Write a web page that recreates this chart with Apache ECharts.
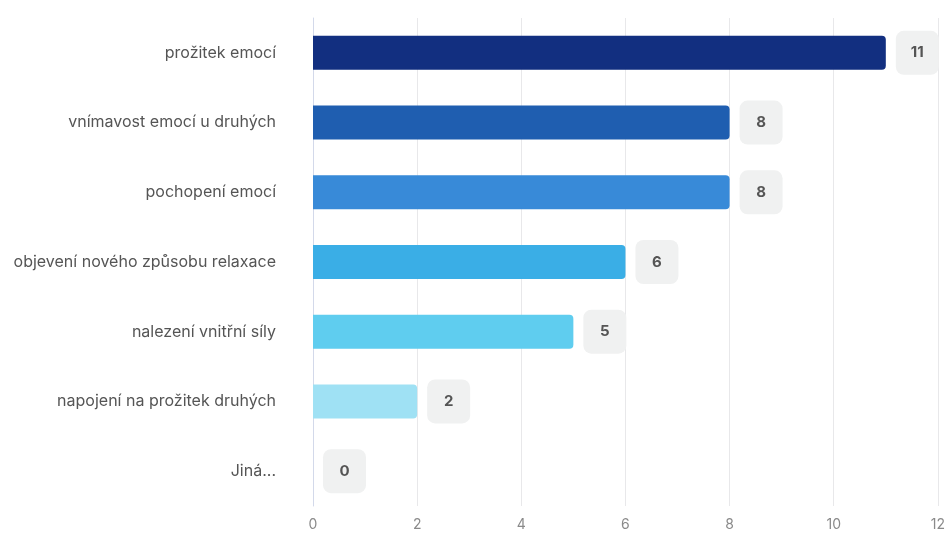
<!DOCTYPE html>
<html>
<head>
<meta charset="utf-8">
<script src="https://cdn.jsdelivr.net/npm/echarts@6/dist/echarts.min.js"></script>
<style>
  html, body { margin: 0; padding: 0; background: #fff; }
  #chart { width: 948px; height: 533px; }
</style>
</head>
<body>
<div id="chart"></div>
<script>
// Answers, top to bottom
const categories = [
  'prožitek emocí',
  'vnímavost emocí u druhých',
  'pochopení emocí',
  'objevení nového způsobu relaxace',
  'nalezení vnitřní síly',
  'napojení na prožitek druhých',
  'Jiná...'
];
const counts = [11, 8, 8, 6, 5, 2, 0];
const barColors = ['#122f80', '#1f5eb0', '#388ad8', '#3aaee6', '#5fcdef', '#9fe1f4', '#c8eefa'];
const xTicks = [0, 2, 4, 6, 8, 10, 12];

const chart = echarts.init(document.getElementById('chart'));
chart.setOption({
  animation: false,
  grid: { left: 313, right: 9, top: 18, bottom: 27, containLabel: false },
  xAxis: {
    type: 'value',
    min: xTicks[0],
    max: xTicks[xTicks.length - 1],
    interval: 2,
    axisLine: { show: false },
    axisTick: { show: false },
    splitLine: { show: true, lineStyle: { color: '#e8e8ea', width: 1 } },
    axisLabel: {
      color: '#8a8a8a', fontSize: 14, fontFamily: 'Inter, sans-serif', margin: 12
    }
  },
  yAxis: {
    type: 'category',
    inverse: true,
    data: categories,
    axisLine: { show: true, lineStyle: { color: '#d3d9ea', width: 1 } },
    axisTick: { show: false },
    axisLabel: {
      color: '#555555', fontSize: 16, fontFamily: 'Inter, sans-serif', margin: 37
    }
  },
  series: [{
    type: 'bar',
    barWidth: 34,
    data: counts.map((v, i) => ({
      value: v,
      itemStyle: { color: barColors[i], borderRadius: [0, 4, 4, 0] }
    })),
    label: {
      show: true,
      position: 'right',
      distance: 10,
      formatter: '{box|{c}}',
      rich: {
        box: {
          color: '#555555',
          fontSize: 15,
          fontWeight: 'bold',
          fontFamily: 'Inter, sans-serif',
          backgroundColor: '#f0f1f1',
          borderRadius: 8,
          width: 43,
          height: 44,
          lineHeight: 44,
          align: 'center'
        }
      }
    }
  }]
});
</script>
</body>
</html>
